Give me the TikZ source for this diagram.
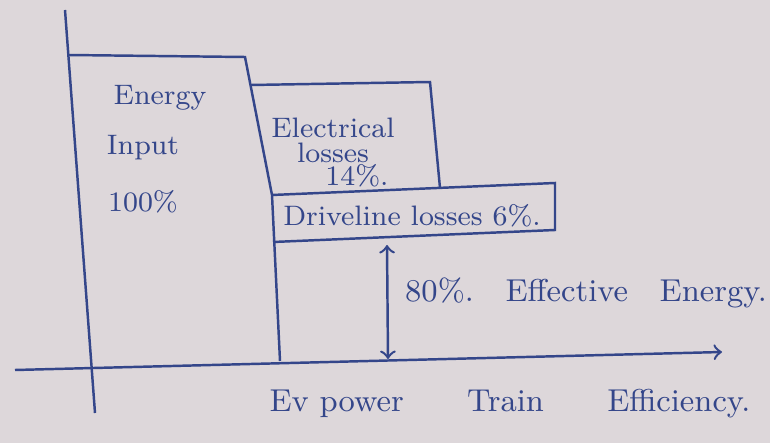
\documentclass[tikz,border=0pt]{standalone}
\usetikzlibrary{positioning}

\definecolor{ink}{RGB}{52,70,138}
\definecolor{paper}{RGB}{221,215,218}

\tikzset{
    lbl/.style={font=\footnotesize, inner sep=1pt},
    capt/.style={font=\small, inner sep=1pt}
}

\begin{document}
\begin{tikzpicture}[x=0.01cm, y=-0.01cm, color=ink, line width=0.7pt]
        % paper
        \fill[paper] (0,0) rectangle (770,443);
        \useasboundingbox (0,0) rectangle (770,443);

        % draw the axes
        \coordinate (ytop) at (65,10);
        \coordinate (ybot) at (95,413);
        \coordinate (xleft) at (15,370);
        \coordinate (xright) at (722,352);
        \draw (ytop) -- (ybot);
        \draw[->] (xleft) -- (xright);

        % energy input bar
        \coordinate (inTL) at (68,55);
        \coordinate (inTR) at (245,57);
        \coordinate (inMR) at (272,195);
        \coordinate (inBR) at (280,361);
        \draw (inTL) -- (inTR) -- (inMR) -- (inBR);

        % electrical losses bar
        \coordinate (elTL) at (251,85);
        \coordinate (elTR) at (430,82);
        \coordinate (elBR) at (440,188);
        \draw (elTL) -- (elTR) -- (elBR);

        % driveline losses bar
        \coordinate (drTR) at (555,183);
        \coordinate (drBR) at (555,230);
        \coordinate (drBL) at (273,242);
        \draw (inMR) -- (drTR) -- (drBR) -- (drBL);

        % effective energy
        \coordinate (effT) at (387,245);
        \coordinate (effB) at (388,359);
        \draw[<->] (effT) -- (effB);

        % labels
        \node[lbl] (energy) at (160,98) {Energy};
        \node[lbl] (input) at (143,148) {Input};
        \node[lbl] (hundred) at (143,202) {100\%};
        \node[lbl] (elec) at (333,128) {Electrical};
        \node[lbl] (elloss) at (333,153) {losses};
        \node[lbl] (elpct) at (357,176) {14\%.};
        \node[lbl] (drloss) at (412,216) {Driveline losses 6\%.};
        \node[capt] (effect) at (586,293) {80\%.\quad Effective\quad Energy.};
        \node[capt] (title) at (510,404) {Ev power\qquad Train\qquad Efficiency.};
\end{tikzpicture}
\end{document}
